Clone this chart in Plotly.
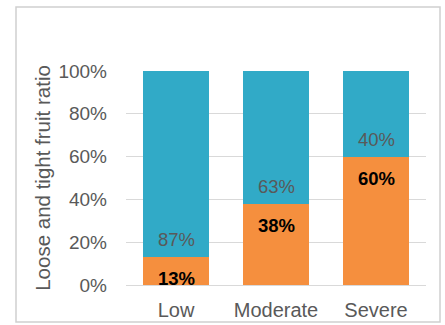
import plotly.graph_objects as go

categories = ["Low", "Moderate", "Severe"]
loose = [0.13, 0.38, 0.60]       # orange (bottom)
tight = [0.87, 0.63, 0.40]       # blue (top)
loose_labels = ["13%", "38%", "60%"]
tight_labels = ["87%", "63%", "40%"]
yticks = [0, 0.2, 0.4, 0.6, 0.8, 1.0]
ytick_labels = ["0%", "20%", "40%", "60%", "80%", "100%"]

ORANGE = "#F58F3E"
BLUE = "#31AAC7"
GRAY = "#595959"
FONT = "Liberation Sans, Arial, sans-serif"

fig = go.Figure()
fig.add_trace(go.Bar(x=categories, y=loose, marker_color=ORANGE, width=0.66,
                     marker_line_width=0, hoverinfo="skip"))
fig.add_trace(go.Bar(x=categories, y=tight, marker_color=BLUE, width=0.66,
                     marker_line_width=0, hoverinfo="skip"))

for c, v, lab in zip(categories, loose, loose_labels):
    fig.add_annotation(x=c, y=v, text="<b>%s</b>" % lab, showarrow=False,
                       yanchor="top", yshift=-9,
                       font=dict(family=FONT, size=18.5, color="#000000"))
for c, v, lab in zip(categories, loose, tight_labels):
    fig.add_annotation(x=c, y=v, text=lab, showarrow=False,
                       yanchor="bottom", yshift=5,
                       font=dict(family=FONT, size=18.5, color=GRAY))

W, H = 445, 325
ml, mr, mt, mb = 126, 19, 71, 40
pw, ph = W - ml - mr, H - mt - mb
fig.add_shape(type="rect", xref="paper", yref="paper",
              x0=(16 - ml) / pw, x1=(440 - ml) / pw,
              y0=(H - mb - 322) / ph, y1=(H - mb - 7) / ph,
              line=dict(color="#D0D0D0", width=1.5), layer="below")

fig.update_layout(
    width=W, height=H, barmode="stack", showlegend=False,
    margin=dict(l=ml, r=mr, t=mt, b=mb, autoexpand=False),
    paper_bgcolor="white", plot_bgcolor="white",
    font=dict(family=FONT, size=18, color=GRAY),
)
fig.update_xaxes(range=[-0.5, 2.5], showgrid=False, showline=False,
                 tickfont=dict(size=20, color=GRAY), ticks="",
                 ticklabelstandoff=11, automargin=False)
fig.update_yaxes(range=[0, 1.0], tickvals=yticks, ticktext=ytick_labels,
                 showgrid=True, gridcolor="#D9D9D9", gridwidth=1,
                 zeroline=True, zerolinecolor="#D9D9D9", zerolinewidth=1,
                 ticklabelstandoff=18, tickfont=dict(size=19, color=GRAY),
                 automargin=False,
                 title=dict(text="Loose and tight fruit ratio", standoff=2,
                            font=dict(size=20.5, color=GRAY)))

fig.write_html("out.html")
